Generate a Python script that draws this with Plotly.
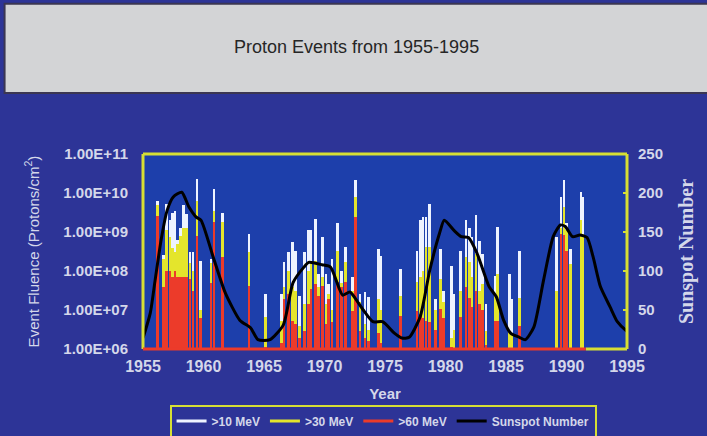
import plotly.graph_objects as go

# ── DATA ────────────────────────────────────────────────────────
# proton events: year, log10 fluence for >10, >30, >60 MeV
event_year = [1956.19, 1956.68, 1956.96, 1957.23, 1957.42, 1957.64, 1957.84, 1958.11,
              1958.33, 1958.60, 1958.88, 1959.13, 1959.45, 1959.76, 1960.63, 1960.86,
              1961.55, 1963.75, 1965.10, 1966.42, 1966.64, 1967.05, 1967.38, 1967.60,
              1967.95, 1968.36, 1968.69, 1968.88, 1969.24, 1969.51, 1969.84, 1970.12,
              1970.34, 1970.61, 1971.08, 1971.43, 1971.71, 1972.31, 1972.58, 1972.94,
              1973.35, 1973.63, 1974.45, 1974.67, 1976.26, 1977.64, 1977.91, 1978.13,
              1978.38, 1978.68, 1979.15, 1979.56, 1979.84, 1980.52, 1980.71, 1981.26,
              1981.70, 1981.97, 1982.16, 1982.52, 1982.80, 1983.04, 1983.34, 1984.09,
              1984.28, 1985.28, 1985.47, 1986.10, 1989.18, 1989.54, 1989.79, 1990.01,
              1990.34, 1991.19, 1991.33]
log_10mev = [9.80, 8.40, 9.73, 9.30, 9.50, 9.55, 8.80, 9.10, 9.70, 9.47, 8.50, 8.50,
             10.37, 8.25, 8.30, 10.10, 9.50, 8.96, 7.42, 7.42, 8.23, 8.48, 8.74, 8.52,
             7.37, 8.48, 9.04, 9.04, 9.34, 7.92, 8.87, 7.92, 7.66, 8.32, 9.22, 8.00,
             8.61, 7.84, 10.33, 7.42, 7.46, 7.33, 8.56, 8.39, 8.05, 8.52, 9.30, 9.38,
             9.38, 9.73, 7.27, 8.56, 7.50, 8.14, 7.42, 8.52, 9.30, 9.09, 8.87, 9.43,
             8.78, 8.43, 7.15, 7.88, 9.13, 7.92, 7.29, 8.52, 8.87, 9.90, 10.33, 9.22,
             8.56, 10.03, 9.90]
log_30mev = [9.70, 8.30, 9.04, 8.87, 8.60, 8.50, 8.70, 8.90, 9.10, 9.10, 8.20, 8.00,
             9.80, 7.00, 8.20, 9.55, 9.25, 8.50, 6.83, 6.72, 7.58, 8.00, 7.58, 7.50,
             6.60, 7.15, 8.00, 8.18, 8.26, 7.58, 7.84, 7.15, 7.40, 7.00, 8.52, 7.70,
             8.22, 7.50, 9.90, 7.20, 6.63, 6.50, 7.27, 7.00, 7.37, 7.71, 7.84, 8.00,
             8.61, 8.61, 7.00, 7.79, 7.20, 6.29, 6.50, 7.50, 8.35, 8.22, 7.84, 8.43,
             7.50, 7.66, 6.46, 7.42, 7.92, 6.45, 6.40, 7.32, 7.50, 9.10, 9.65, 9.04,
             8.18, 9.30, 8.95]
log_60mev = [9.40, 7.60, 8.00, 8.00, 7.85, 8.00, 7.85, 7.85, 7.85, 7.85, 7.80, 7.50,
             8.90, 6.80, 7.70, 9.25, 8.35, 7.62, 6.05, 6.16, 7.27, 7.42, 6.72, 6.63,
             6.29, 6.46, 7.15, 7.54, 7.66, 7.37, 7.62, 6.63, 7.27, 6.70, 7.71, 7.60,
             7.71, 6.98, 9.38, 6.46, 6.29, 6.20, 6.42, 6.16, 6.85, 6.98, 6.90, 6.80,
             6.72, 6.70, 6.50, 7.02, 6.80, 6.05, 6.00, 6.81, 7.58, 7.32, 7.07, 7.50,
             7.15, 7.00, 6.10, 6.72, 6.72, 6.00, 6.00, 6.59, 6.00, 8.95, 8.93, 8.52,
             6.00, 6.00, 6.00]

# smoothed monthly sunspot number
ssn_year = [1955.0, 1955.6, 1956.0, 1956.5, 1957.0, 1957.5, 1958.2, 1958.8, 1959.4,
            1959.8, 1960.8, 1961.8, 1963.0, 1963.9, 1964.5, 1965.5, 1966.6, 1967.4,
            1968.3, 1968.7, 1969.8, 1970.5, 1971.5, 1972.1, 1972.8, 1973.2, 1974.0,
            1974.8, 1975.8, 1976.4, 1977.0, 1977.9, 1978.7, 1979.5, 1979.9, 1980.7,
            1981.3, 1981.9, 1982.6, 1983.6, 1984.2, 1984.8, 1985.4, 1986.1, 1986.6,
            1987.3, 1988.1, 1988.9, 1989.5, 1989.9, 1990.5, 1991.1, 1991.7, 1992.2,
            1992.8, 1993.6, 1994.2, 1994.9, 1995.3]
ssn_value = [14, 46, 88, 140, 178, 195, 201, 182, 169, 165, 118, 72, 37, 27, 12, 12,
             31, 85, 105, 111, 108, 105, 69, 73, 59, 50, 35, 35, 20, 14, 15, 41, 101,
             148, 165, 152, 144, 143, 123, 80, 67, 37, 20, 15, 12, 28, 88, 144, 159,
             157, 144, 146, 143, 118, 80, 54, 35, 24, 20]

year_ticks = [1955, 1960, 1965, 1970, 1975, 1980, 1985, 1990, 1995]
fluence_ticks = [1e6, 1e7, 1e8, 1e9, 1e10, 1e11]
fluence_labels = ['1.00E+06', '1.00E+07', '1.00E+08', '1.00E+09', '1.00E+10', '1.00E+11']
ssn_ticks = [0, 50, 100, 150, 200, 250]

# ── STYLE ───────────────────────────────────────────────────────
OUTER_BG = '#2d3497'
PLOT_BG = '#1d3fab'
WHITE = '#eef3ff'
YELLOW = '#e4e52c'
RED = '#ec3b2a'
FRAME = '#d6df34'
LABEL = '#d4d7ea'
FONT = 'Liberation Sans, Arial, sans-serif'

fig = go.Figure()

for vals, col in [(log_10mev, WHITE), (log_30mev, YELLOW), (log_60mev, RED)]:
    fig.add_trace(go.Bar(
        x=event_year, y=[10 ** v for v in vals],
        width=0.22, marker=dict(color=col, line=dict(width=0)),
        showlegend=False, hoverinfo='x+y'
    ))

fig.add_trace(go.Scatter(
    x=ssn_year, y=ssn_value, yaxis='y2', mode='lines',
    line=dict(color='black', width=3, shape='spline', smoothing=0.6),
    showlegend=False
))

# legend entries
for name, col in [('>10 MeV', WHITE), ('>30 MeV', YELLOW),
                  ('>60 MeV', RED), ('Sunspot Number', 'black')]:
    fig.add_trace(go.Scatter(x=[None], y=[None], mode='lines', name=name,
                             line=dict(color=col, width=3)))

# title box, frame and red baseline
shapes = [
    dict(type='rect', xref='paper', yref='paper', x0=-0.286, x1=1.17,
         y0=1.313, y1=1.77, fillcolor='#d3d4d6', line=dict(color='#3b3652', width=2),
         layer='below'),
    dict(type='line', xref='paper', yref='paper', x0=0, x1=0, y0=0, y1=1,
         line=dict(color=FRAME, width=3)),
    dict(type='line', xref='paper', yref='paper', x0=0, x1=1, y0=1, y1=1,
         line=dict(color=FRAME, width=3)),
    dict(type='line', xref='paper', yref='paper', x0=1, x1=1, y0=0, y1=1,
         line=dict(color=FRAME, width=3)),
    dict(type='line', xref='x', yref='paper', x0=1991.6, x1=1995, y0=0, y1=0,
         line=dict(color=FRAME, width=3)),
    dict(type='line', xref='x', yref='paper', x0=1955, x1=1991.6, y0=0, y1=0,
         line=dict(color=RED, width=3)),
]

fig.update_layout(
    width=707, height=436,
    margin=dict(l=143, r=80, t=154, b=87),
    paper_bgcolor=OUTER_BG, plot_bgcolor=PLOT_BG,
    barmode='overlay', bargap=0,
    font=dict(family=FONT, color=LABEL),
    shapes=shapes,
    annotations=[dict(text='Proton Events from 1955-1995', xref='paper', yref='paper',
                      x=0.442, y=1.55, yanchor='middle', showarrow=False,
                      font=dict(family=FONT, size=18, color='#262626'))],
    xaxis=dict(range=[1955, 1995], tickvals=year_ticks, showgrid=False,
               zeroline=False, ticks='', ticklabelstandoff=6, automargin=False,
               tickfont=dict(size=16, weight='bold', color=LABEL),
               title=dict(text='Year', standoff=14,
                          font=dict(size=15, weight='bold', color=LABEL))),
    yaxis=dict(type='log', range=[6, 11], tickvals=fluence_ticks,
               ticktext=fluence_labels, showgrid=False, zeroline=False,
               ticks='', ticklabelstandoff=14, automargin=False,
               tickfont=dict(size=15, weight='bold', color=LABEL),
               title=dict(text='Event Fluence (Protons/cm<sup>2</sup>)', standoff=20,
                          font=dict(size=15, color=LABEL))),
    yaxis2=dict(overlaying='y', side='right', range=[0, 250], tickvals=ssn_ticks,
                showgrid=False, zeroline=False, ticks='inside', ticklen=4,
                tickcolor=FRAME, tickwidth=2, ticklabelstandoff=10,
                automargin=False,
                tickfont=dict(size=15, weight='bold', color=LABEL),
                title=dict(text='Sunspot Number', standoff=16,
                           font=dict(family='Liberation Serif, serif', size=20,
                                     weight='bold', color=LABEL))),
    legend=dict(orientation='h', x=0.496, xanchor='center',
                yref='container', y=0.072, yanchor='top',
                bgcolor=OUTER_BG, bordercolor=FRAME, borderwidth=2,
                font=dict(size=12, weight='bold', color=LABEL),
                itemwidth=30, tracegroupgap=0),
)

# page has a default 8px body margin; drop it so the figure fills the window
fig.write_html('out.html', config={'displayModeBar': False},
               post_script="document.body.style.margin='0';")
